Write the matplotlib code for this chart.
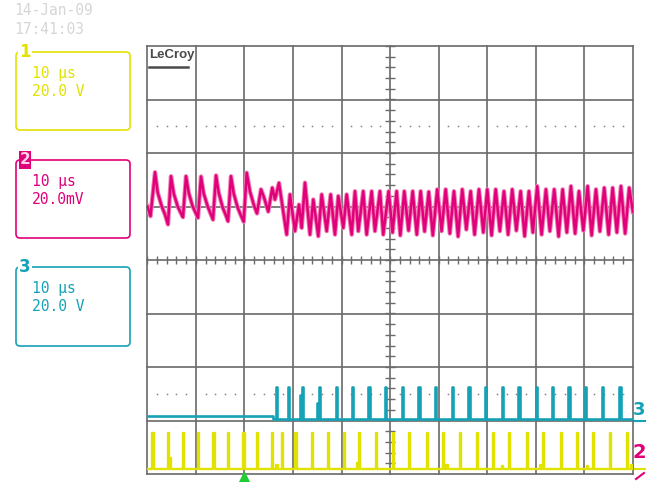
import numpy as np
import matplotlib.pyplot as plt
from matplotlib.patches import FancyBboxPatch

# --- scope settings ---
time_per_div = 10.0      # us / div
ch2_per_div = 20.0       # mV / div
ch3_per_div = 20.0       # V / div
ch1_per_div = 20.0       # V / div
ch2_offset = 1.0         # div
ch3_offset = -2.97
ch1_offset = -3.91

# --- channel 2 (magenta), vertices: time in us, value in mV ---
ch2_t = [0.00, 0.66, 1.59, 2.14, 2.97, 3.64, 4.26, 4.88, 5.44, 6.26, 6.94, 7.35, 7.97,
         8.52, 9.35, 10.03, 10.44, 11.06, 11.61, 12.44, 13.12, 13.53, 14.15, 14.70,
         15.52, 16.20, 16.62, 17.23, 17.79, 18.61, 19.29, 19.85, 20.47, 21.15, 21.97,
         22.59, 23.41, 24.03, 24.91, 25.74, 26.29, 27.12, 27.94, 28.70, 29.38, 30.41,
         31.24, 31.79, 32.47, 33.50, 34.18, 35.21, 35.91, 36.94, 37.76, 38.65, 39.33,
         40.36, 41.06, 42.09, 42.77, 43.45, 44.47, 45.17, 46.20, 46.88, 47.91, 48.59,
         49.70, 50.50, 51.35, 52.10, 52.92, 53.80, 54.65, 55.50, 56.29, 57.10, 57.96,
         58.80, 59.71, 60.60, 61.44, 62.30, 63.15, 64.00, 64.86, 65.70, 66.59, 67.40,
         68.30, 69.20, 70.01, 70.90, 71.74, 72.60, 73.45, 74.30, 75.15, 76.00, 76.88,
         77.70, 78.59, 79.40, 80.30, 81.20, 82.09, 82.90, 83.80, 84.70, 85.53, 86.40,
         87.24, 88.10, 88.89, 89.80, 90.68, 91.50, 92.39, 93.20, 94.10, 95.00, 95.83,
         96.70, 97.54, 98.40, 99.24, 100.0]
ch2_mv = [0.1, -3.6, 12.8, 5.2, 0.1, -3.0, -6.7, 11.3, 4.9, 0.0, -2.6, -4.0, 11.3,
          5.2, 0.0, -2.6, -4.2, 11.2, 4.9, 0.0, -3.0, -4.9, 11.6, 5.2,
          -0.4, -3.4, -5.5, 11.3, 4.9, -0.4, -3.4, -5.7, 12.6, 5.6, 0.4,
          -2.6, 6.4, 3.4, -1.9, 7.0, 2.6, 8.8, -1.1, -10.5, 4.5, -9.2,
          0.7, -8.0, 8.9, -10.5, 2.6, -11.1, 4.5, -9.2, 4.5, -10.5, 3.9,
          -8.0, 4.5, -10.5, 5.7, -9.2, 5.7, -10.5, 5.7, -9.2, 5.7, -10.5,
          5.7, -9.7, 5.7, -10.8, 5.7, -9.0, 5.7, -10.5, 5.7, -9.3, 5.5,
          -10.8, 6.4, -9.2, 6.4, -10.1, 5.7, -11.2, 6.4, -8.6, 5.7, -10.5,
          6.4, -9.7, 6.4, -10.8, 6.4, -9.2, 5.7, -10.5, 6.4, -9.0, 5.7,
          -11.1, 5.7, -9.7, 7.6, -10.5, 6.4, -9.2, 6.4, -11.2, 6.4, -9.7,
          7.6, -10.1, 5.7, -9.0, 7.6, -10.8, 6.4, -9.3, 7.0, -10.5, 7.0,
          -9.7, 7.6, -10.1, 7.0, -2.0]

# --- channel 3 (cyan) pulses: start time in us, height in V ---
ch3_pulse_t = [26.44, 28.91, 31.45, 31.79, 35.00, 35.33, 38.79, 42.09, 45.50, 48.94,
               52.38, 55.80, 59.24, 62.68, 66.09, 69.53, 72.97, 76.39, 79.97, 83.27,
               86.68, 90.12, 93.56, 97.18]
ch3_pulse_v = [12.0, 12.0, 9.0, 12.0, 6.0, 12.0, 12.0, 12.0, 12.0, 12.0,
               12.0, 12.0, 12.0, 12.0, 12.0, 12.0, 12.0, 12.0, 12.0, 12.0,
               12.0, 12.0, 12.0, 12.0]
ch3_level_before = 0.9   # V, baseline before the first pulse
ch3_step_t = 25.8        # us

# --- channel 1 (yellow) pulses: start time in us, height in V ---
ch1_pulse_t = [1.07, 4.32, 4.70, 7.41, 10.44, 13.59, 16.62, 19.77, 22.59, 25.61, 26.60,
               27.67, 30.51, 33.91, 37.21, 40.50, 43.20, 43.59, 47.09, 50.65, 53.95,
               57.53, 60.95, 61.60, 64.39, 67.82, 71.12, 73.10, 74.54, 78.12, 80.90,
               81.41, 85.12, 88.54, 90.50, 91.83, 95.27, 98.83, 99.60]
ch1_pulse_v = [13.4, 13.4, 4.0, 13.4, 13.4, 13.4, 13.4, 13.4, 13.4, 13.4, 1.5,
               13.4, 13.4, 13.4, 13.4, 13.4, 2.2, 13.4, 13.4, 13.4, 13.4,
               13.4, 13.4, 1.5, 13.4, 13.4, 13.4, 1.3, 13.4, 13.4, 1.5,
               13.4, 13.4, 13.4, 1.3, 13.4, 13.4, 13.4, 1.5]

# screen text
date_text = ['14-Jan-09', '17:41:03']
ch_text = [['10 \u00b5s', '20.0 V'], ['10 \u00b5s', '20.0mV'], ['10 \u00b5s', '20.0 V']]

YEL = '#e2e200'
MAG = '#e0007a'
CYA = '#16a2b6'
GRID = '#6a6a6a'
MONO = 'DejaVu Sans Mono'


def pulse_trace(times, heights, width, t_end, base_fn):
    xs, ys = [0.0], [base_fn(0.0)]
    for t0, h in zip(times, heights):
        b = base_fn(t0)
        xs += [t0, t0, t0 + width, t0 + width]
        ys += [b, b + h, b + h, b]
    xs.append(t_end)
    ys.append(base_fn(t_end))
    return np.array(xs), np.array(ys)


fig = plt.figure(figsize=(6.49, 4.82), dpi=100)

# overlay in screen pixels for labels and boxes
ov = fig.add_axes([0, 0, 1, 1], zorder=0)
ov.set_xlim(0, 649)
ov.set_ylim(482, 0)
ov.axis('off')

ax = fig.add_axes([147.3 / 649, 1 - 474 / 482, 485.6 / 649, 428 / 482], zorder=1)
ax.set_xlim(0, 10)
ax.set_ylim(-4, 4)
ax.axis('off')
ax.patch.set_alpha(0)

# graticule
for i in range(11):
    ax.plot([i, i], [-4, 4], color=GRID, lw=1.2, clip_on=False, zorder=1)
for j in range(-4, 5):
    ax.plot([0, 10], [j, j], color=GRID, lw=1.2, clip_on=False, zorder=1)
sub = np.arange(0, 10.01, 0.2)
ax.vlines(sub, -0.08, 0.08, color=GRID, lw=1.0, zorder=1)
subv = np.arange(-4, 4.01, 0.2)
ax.hlines(subv, 4.9, 5.1, color=GRID, lw=1.0, zorder=1)
dots = [x for x in sub if abs(x - round(x)) > 0.05]
for yy in (2.5, -2.5):
    ax.plot(dots, [yy] * len(dots), ls='none', marker='s', ms=1.1, mew=0,
            color='#858585', zorder=1)

# channel 1
x1, v1 = pulse_trace(ch1_pulse_t, ch1_pulse_v, 0.25, 100.0, lambda t: 0.0)
ax.plot(x1 / time_per_div, ch1_offset + v1 / ch1_per_div, color=YEL, lw=1.7, zorder=3)

# channel 3
x3, v3 = pulse_trace(ch3_pulse_t, ch3_pulse_v, 0.3, 100.0,
                     lambda t: ch3_level_before if t < ch3_step_t else 0.0)
x3 = np.insert(x3, 1, [ch3_step_t, ch3_step_t])
v3 = np.insert(v3, 1, [ch3_level_before, 0.0])
ax.plot(x3 / time_per_div, ch3_offset + v3 / ch3_per_div, color=CYA, lw=1.9, zorder=3)

# channel 2
t2 = np.array(ch2_t) / time_per_div
y2 = ch2_offset + np.array(ch2_mv) / ch2_per_div
ax.plot(t2, y2, color='#f27cb4', lw=3.2, zorder=3)
ax.plot(t2, y2, color=MAG, lw=1.8, zorder=4)

# trigger marker
ax.plot([2], [-4.05], marker='^', ms=7, color='#22cc33', clip_on=False, zorder=5)
ax.plot([2], [-4.2], marker='s', ms=3, color='#22cc33', clip_on=False, zorder=5)

# LeCroy logo
ov.text(149, 49, 'LeCroy', va='top', ha='left', family='Liberation Sans', fontsize=9.5,
        fontweight='bold', color='#4a4a4a')
ov.plot([149, 188], [67, 67], color='#4a4a4a', lw=1.8)

# date / time
ov.text(14, 3, date_text[0], va='top', family=MONO, fontsize=10.5, color='#d6d6d6')
ov.text(14, 22, date_text[1], va='top', family=MONO, fontsize=10.5, color='#d6d6d6')

# channel boxes
boxes = [(52, 78, YEL, '1'), (160, 78, MAG, '2'), (267, 79, CYA, '3')]
for (top, h, col, num), lines in zip(boxes, ch_text):
    ov.add_patch(FancyBboxPatch((16, top), 114, h, boxstyle='round,pad=0,rounding_size=4',
                                fill=False, ec=col, lw=1.2))
    if num == '2':
        ov.text(25, top, num, ha='center', va='center', fontsize=11, fontweight='bold',
                color='#ffd0e6', bbox=dict(fc=col, ec='none', pad=0.8))
    else:
        ov.text(25, top, num, ha='center', va='center', fontsize=12, fontweight='bold',
                color=col, bbox=dict(fc='white', ec='none', pad=0.6))
    ov.text(32, top + 14, lines[0], va='top', family=MONO, fontsize=10.5, color=col)
    ov.text(32, top + 32, lines[1], va='top', family=MONO, fontsize=10.5, color=col)

# channel ground markers on the right
ov.text(639, 410, '3', ha='center', va='center', fontsize=13, fontweight='bold', color=CYA)
ov.plot([634, 645], [421, 421], color=CYA, lw=1.5)
ov.text(639, 452, '2', ha='center', va='center', fontsize=14, fontweight='bold', color=MAG)
ov.plot([634, 645], [469, 469], color=YEL, lw=1.5)
ov.plot([636, 644], [479, 473], color=MAG, lw=1.5)

plt.savefig('out.png', dpi=100)
